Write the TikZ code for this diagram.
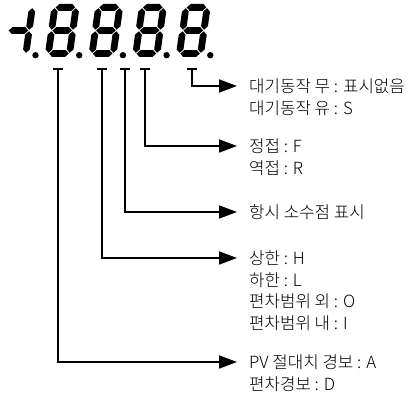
\documentclass[tikz,border=0pt]{standalone}
\usepackage{fontspec}
\setmainfont{Noto Sans CJK KR Light}
\usetikzlibrary{arrows.meta}
% one bevelled segment of the display
\newcommand{\hseg}[3]{\fill[segfill] (#1,#3) -- (#1+3.4,#3+3.4) -- (#2-3.4,#3+3.4) -- (#2,#3) -- (#2-3.4,#3-3.4) -- (#1+3.4,#3-3.4) -- cycle;}
\newcommand{\vseg}[3]{\fill[segfill] (#1,#2) -- (#1+3.4,#2+3.4) -- (#1+3.4,#3-3.4) -- (#1,#3) -- (#1-3.4,#3-3.4) -- (#1-3.4,#2+3.4) -- cycle;}
\tikzset{
  segfill/.style={fill=black},
  tbar/.style={line width=1.8pt},
  conn/.style={line width=1.8pt, -{Triangle[length=18pt,width=13pt]}, shorten >=12pt},
  lbl/.style={anchor=west, inner xsep=0pt, font=\fontsize{16.8}{19}\selectfont},
  pics/eight/.style={code={
    \begin{scope}[xslant=0.14]
      \hseg{4.2}{23.8}{49.6}
      \vseg{24.6}{27.3}{48.8}
      \vseg{24.6}{4.2}{25.7}
      \hseg{4.2}{23.8}{3.4}
      \vseg{3.4}{4.2}{25.7}
      \vseg{3.4}{27.3}{48.8}
      \hseg{4.2}{23.8}{26.5}
    \end{scope}}},
  pics/minusone/.style={code={
    \begin{scope}[xslant=0.14]
      \vseg{24.6}{27.3}{48.8}
      \vseg{24.6}{4.2}{25.7}
      \hseg{4.2}{23.8}{26.5}
    \end{scope}}}
}
\begin{document}
\begin{tikzpicture}[x=1pt, y=1pt]
  \useasboundingbox (0,0) rectangle (413,398);
  % display -1.8.8.8.8.
  \pic at (0.8,341) {minusone};
  \foreach \i in {1,...,4}
    \pic at ({0.8+43.7*\i},341) {eight};
  \foreach \i in {0,...,4}
    \fill ({35.5+43.7*\i},342.8) circle (3.2pt);

  % ticks under the display
  \coordinate (tkAl) at (58,329);
  \coordinate (tkLim) at (102,329);
  \coordinate (tkDp) at (125,329);
  \coordinate (tkDir) at (145,329);
  \coordinate (tkSb) at (192,329);
  \foreach \t in {tkAl,tkLim,tkDp,tkDir,tkSb}
    \draw[tbar] ([xshift=-5pt]\t) -- ([xshift=5pt]\t);

  % labels
  \node[lbl] (sbA) at (249,312) {대기동작 무 : 표시없음};
  \node[lbl] (sbB) at (249,290) {대기동작 유 : S};
  \node[lbl] (dirF) at (249,252) {정접 : F};
  \node[lbl] (dirR) at (249,230) {역접 : R};
  \node[lbl] (dpt) at (249,186) {항시 소수점 표시};
  \node[lbl] (limH) at (249,140) {상한 : H};
  \node[lbl] (limL) at (249,118) {하한 : L};
  \node[lbl] (devO) at (249,97) {편차범위 외 : O};
  \node[lbl] (devI) at (249,75) {편차범위 내 : I};
  \node[lbl] (alA) at (249,36) {PV 절대치 경보 : A};
  \node[lbl] (alD) at (249,14) {편차경보 : D};

  \draw[conn] (tkSb) |- (sbA);
  \draw[conn] (tkDir) |- (dirF);
  \draw[conn] (tkDp) |- (dpt);
  \draw[conn] (tkLim) |- (limH);
  \draw[conn] (tkAl) |- (alA);
\end{tikzpicture}
\end{document}
